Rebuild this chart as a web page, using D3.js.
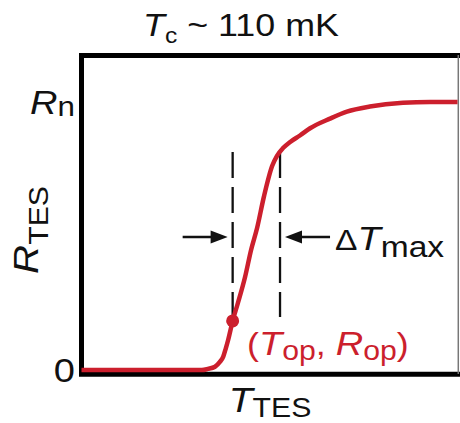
<!DOCTYPE html>
<html>
<head>
<meta charset="utf-8">
<script src="https://cdn.jsdelivr.net/npm/d3@7"></script>
<style>
  body { margin: 0; background: #fff; }
  text { font-family: "Liberation Sans", Arial, sans-serif; }
</style>
</head>
<body>
<div class="canvas"></div>
<script>
// transition curve R(T), T in arbitrary units, R as fraction of Rn
var temps = [0, 18, 30, 32, 33.6, 35.5, 36.8, 37.7, 38.4, 39.0, 40.2, 41.6, 43.5, 45.1, 46.7, 48.5,
             50.7, 52.0, 53.6, 55.5, 58.1, 60.8, 66.1, 70.6, 76.7, 85.5, 92.7, 100];
var resist = [0, 0, 0, 0, 0.004, 0.012, 0.030, 0.050, 0.082, 0.112, 0.183, 0.250, 0.347, 0.448, 0.530, 0.646,
              0.761, 0.799, 0.828, 0.851, 0.875, 0.902, 0.938, 0.964, 0.983, 0.997, 1.0, 1.0];

// operating point and width of the steep part
var opPoint = [40.2, 0.183];
var deltaTmax = 12.6;
var dashTopR = 0.813;
var arrowR = 0.496;

var yTicks = [0, 1];
var yTickLabels = [[["0", 34, false, 0]], [["R", 34, true, 0], ["n", 28, false, 2]]];

var red = "#cc1f2d";

var width = 460, height = 423;

var svg = d3.select(".canvas")
    .append("svg")
    .attr("width", width)
    .attr("height", height);

var x = d3.scaleLinear().domain([0, 100]).range([81.5, 457.5]);
var y = d3.scaleLinear().domain([0, 1]).range([370, 102]);

// helper: text made of segments [text, size, italic, dy]
function label(g, segs, px, py, anchor, fill, sx) {
    var t = g.append("text")
        .attr("transform", "translate(" + px + "," + py + ") scale(" + (sx || 1.12) + ",1)")
        .attr("text-anchor", anchor)
        .attr("fill", fill || "#111");
    var prev = 0;
    segs.forEach(function(s) {
        t.append("tspan")
            .text(s[0])
            .style("font-size", s[1] + "px")
            .style("font-style", s[2] ? "italic" : "normal")
            .attr("dy", s[3] - prev);
        prev = s[3];
    });
    return t;
}

// frame
svg.append("path")
    .attr("d", "M460,55.5 H81.5 V374.2 H460")
    .attr("fill", "none")
    .attr("stroke", "#000")
    .attr("stroke-width", 5);
svg.append("line")
    .attr("x1", 458.3).attr("x2", 458.3)
    .attr("y1", 55).attr("y2", 374)
    .attr("stroke", "#777")
    .attr("stroke-width", 1.5);

// title
label(svg, [["T", 32, true, 0], ["c", 22, false, 7], [" ~ 110 mK", 32, false, 0]], 241, 36, "middle");

// y tick labels
yTicks.forEach(function(v, i) {
    label(svg, yTickLabels[i], 75, y(v) + 12, "end");
});

// axis titles
label(svg, [["T", 35, true, 0], ["TES", 27, false, 5]], 270, 412, "middle");
svg.append("g")
    .attr("transform", "translate(38,230) rotate(-90)")
    .call(function(g) {
        label(g, [["R", 36, true, 0], ["TES", 27, false, 10]], 0, 0, "middle");
    });

// dashed markers
var dashX = [opPoint[0], opPoint[0] + deltaTmax];
svg.selectAll("line.dash")
    .data(dashX)
    .enter()
    .append("line")
    .attr("class", "dash")
    .attr("x1", function(d) { return x(d); })
    .attr("x2", function(d) { return x(d); })
    .attr("y1", y(dashTopR))
    .attr("y2", y(opPoint[1]) - 4)
    .attr("stroke", "#111")
    .attr("stroke-width", 2.3)
    .attr("stroke-dasharray", "26,9");

// arrows
function arrow(x1, x2, yy) {
    var dir = x2 > x1 ? 1 : -1;
    svg.append("line")
        .attr("x1", x1).attr("x2", x2 - dir * 12)
        .attr("y1", yy).attr("y2", yy)
        .attr("stroke", "#111")
        .attr("stroke-width", 2.5);
    svg.append("path")
        .attr("d", "M" + x2 + "," + yy + " L" + (x2 - dir * 17) + "," + (yy - 6.5) +
                   " L" + (x2 - dir * 17) + "," + (yy + 6.5) + "Z")
        .attr("fill", "#111");
}
arrow(x(dashX[0]) - 50, x(dashX[0]) - 5, y(arrowR));
arrow(x(dashX[1]) + 50, x(dashX[1]) + 5, y(arrowR));

label(svg, [["\u0394", 30, false, 0], ["T", 34, true, 0], ["max", 30, false, 7]], 335, 250, "start");

// curve
var line = d3.line()
    .x(function(d, i) { return x(temps[i]); })
    .y(function(d, i) { return y(resist[i]); })
    .curve(d3.curveMonotoneX);

svg.append("path")
    .datum(temps)
    .attr("d", line)
    .attr("fill", "none")
    .attr("stroke", red)
    .attr("stroke-width", 4.5)
    .attr("stroke-linejoin", "round");

svg.append("circle")
    .attr("cx", x(opPoint[0]))
    .attr("cy", y(opPoint[1]))
    .attr("r", 6.5)
    .attr("fill", red);

label(svg, [["(", 32, false, 0], ["T", 34, true, 0], ["op", 27, false, 5], [", ", 32, false, 0],
            ["R", 34, true, 0], ["op", 27, false, 5], [")", 32, false, 0]], 247, 355, "start", red);
</script>
</body>
</html>
